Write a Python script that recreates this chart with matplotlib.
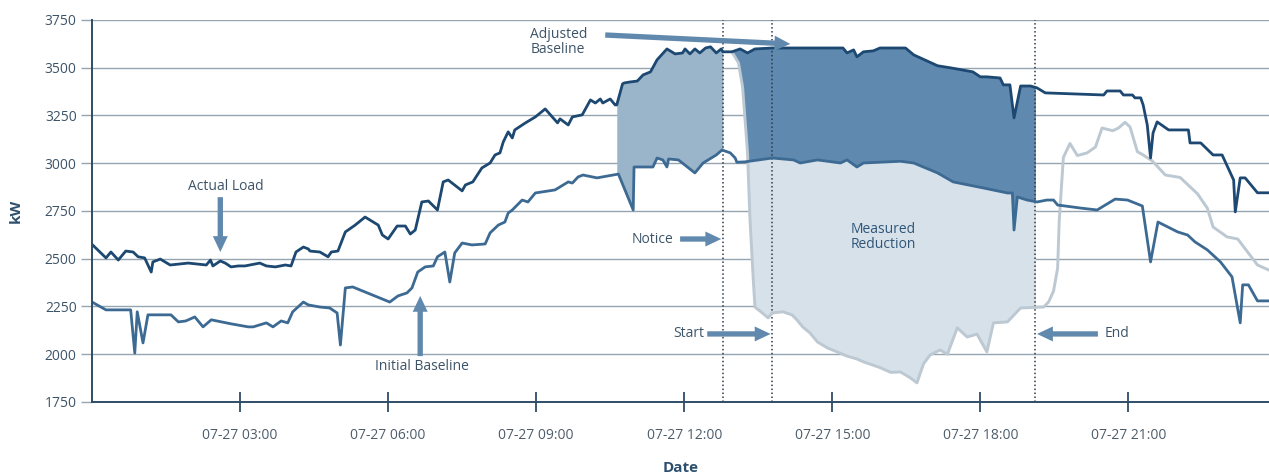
import matplotlib
matplotlib.use("Agg")
import matplotlib.pyplot as plt
import matplotlib.dates as mdates
import numpy as np
import pandas as pd

# ── Style ──────────────────────────────────────────────────────────────────────
plt.rcParams.update({
    "font.family": ["Open Sans", "DejaVu Sans"],
    "axes.spines.top": False,
    "axes.spines.right": False,
    "lines.solid_joinstyle": "round",
    "lines.solid_capstyle": "round",
})

UPPER_C = "#1d4871"
BASE_C = "#3c6a93"
ACTUAL_C = "#bcc8d2"
FILL_PRE = "#9ab4ca"
FILL_DARK = "#5f89ae"
FILL_LIGHT = "#d6e1ea"
GRID_C = "#97a5b0"
SPINE_C = "#2f4d66"
ARROW_C = "#6189ad"
TEXT_C = "#3d5468"
LABEL_C = "#2d4f6e"

DAY = pd.Timestamp("2020-07-27")

# ── Data (minutes after midnight, kW) ──────────────────────────────────────────
# actual load until the notice, adjusted baseline afterwards
upper_min = [0, 17, 23, 32, 41, 50, 56, 64, 72, 74, 83, 95, 117, 139, 144, 147,
             156, 162, 169, 178, 186, 204, 212, 223, 235, 242, 248, 257, 263, 265,
             277, 287, 291, 299, 308, 320, 332, 348, 353, 360, 371, 381, 387, 393,
             401, 409, 420, 427, 433, 450, 454, 463, 474, 484, 490, 496, 500, 506,
             511, 514, 527, 539, 551, 566, 569, 579, 584, 596, 606, 612, 618, 621,
             630, 636, 638, 645, 647, 654, 663, 670, 679, 687, 699, 709, 718, 721,
             727, 733, 739, 746, 752, 759, 765, 767, 778, 788, 797, 806, 827, 913,
             918, 926, 930, 938, 950, 958, 989, 999, 1028, 1044, 1071, 1080, 1088,
             1104, 1108, 1116, 1121, 1129, 1141, 1149, 1159, 1230, 1234, 1250, 1254,
             1265, 1268, 1275, 1278, 1283, 1287, 1290, 1295, 1309, 1333, 1335, 1348,
             1363, 1374, 1388, 1390, 1396, 1402, 1411, 1417, 1431]
upper_kw = [2575, 2504, 2535, 2493, 2540, 2535, 2510, 2504, 2430, 2483, 2498, 2467,
            2477, 2467, 2493, 2462, 2488, 2477, 2457, 2462, 2462, 2477, 2462, 2457,
            2467, 2462, 2535, 2561, 2551, 2540, 2535, 2510, 2535, 2540, 2640, 2676,
            2718, 2676, 2624, 2603, 2671, 2671, 2629, 2650, 2797, 2802, 2755, 2902,
            2912, 2855, 2886, 2902, 2975, 3001, 3043, 3054, 3111, 3164, 3132, 3174,
            3211, 3242, 3284, 3211, 3232, 3200, 3242, 3253, 3331, 3315, 3336, 3315,
            3336, 3305, 3305, 3415, 3420, 3425, 3430, 3462, 3478, 3541, 3598, 3572,
            3577, 3598, 3572, 3598, 3577, 3603, 3609, 3577, 3598, 3583, 3583, 3598,
            3577, 3598, 3603, 3603, 3577, 3593, 3557, 3583, 3588, 3603, 3603, 3567,
            3510, 3499, 3478, 3452, 3452, 3446, 3410, 3410, 3237, 3404, 3404, 3394,
            3368, 3357, 3378, 3378, 3357, 3357, 3342, 3342, 3305, 3200, 3027, 3158,
            3216, 3174, 3174, 3106, 3106, 3043, 3043, 2912, 2745, 2923, 2923, 2876,
            2845, 2845]

base_min = [0, 17, 47, 52, 55, 62, 68, 96, 105, 114, 125, 135, 145, 169, 190, 196,
            212, 220, 230, 238, 244, 257, 263, 277, 289, 298, 302, 308, 317, 362,
            372, 383, 389, 396, 405, 415, 420, 429, 435, 441, 450, 462, 478, 484,
            494, 502, 506, 511, 523, 530, 539, 563, 579, 584, 591, 597, 614, 640,
            658, 659, 682, 687, 694, 699, 701, 713, 733, 743, 759, 766, 776, 782,
            784, 794, 827, 853, 861, 882, 910, 918, 930, 938, 983, 999, 1028, 1047,
            1084, 1113, 1119, 1121, 1125, 1137, 1149, 1161, 1169, 1174, 1202, 1222,
            1244, 1259, 1277, 1287, 1296, 1320, 1332, 1341, 1356, 1372, 1386, 1396,
            1399, 1406, 1417, 1431]
base_kw = [2273, 2232, 2232, 2006, 2222, 2059, 2206, 2206, 2169, 2174, 2195, 2143,
           2180, 2159, 2143, 2143, 2164, 2143, 2174, 2164, 2222, 2273, 2258, 2247,
           2242, 2216, 2048, 2347, 2352, 2273, 2305, 2321, 2347, 2430, 2457, 2462,
           2510, 2535, 2378, 2530, 2582, 2572, 2577, 2635, 2676, 2692, 2739, 2755,
           2807, 2797, 2844, 2860, 2902, 2896, 2928, 2938, 2923, 2943, 2755, 2980,
           2980, 3027, 3017, 2980, 3022, 3017, 2949, 3001, 3043, 3069, 3054, 3027,
           3005, 3007, 3027, 3017, 3001, 3017, 3001, 3017, 2980, 3001, 3010, 3001,
           2949, 2902, 2870, 2844, 2844, 2650, 2823, 2807, 2797, 2807, 2807, 2781,
           2765, 2755, 2812, 2807, 2776, 2483, 2692, 2640, 2624, 2588, 2546, 2483,
           2405, 2164, 2363, 2363, 2279, 2279]

# actual load from the notice onward
actual_min = [778, 786, 791, 797, 800, 804, 806, 815, 822, 827, 840, 851, 857, 864,
              873, 882, 894, 906, 918, 930, 938, 958, 971, 983, 995, 1003, 1011,
              1019, 1031, 1040, 1052, 1064, 1076, 1088, 1096, 1113, 1129, 1157, 1163,
              1169, 1174, 1176, 1181, 1189, 1198, 1210, 1220, 1228, 1241, 1248, 1256,
              1262, 1271, 1278, 1289, 1305, 1323, 1344, 1356, 1363, 1380, 1393, 1417,
              1431]
actual_kw = [3583, 3525, 3399, 3054, 2703, 2389, 2247, 2216, 2190, 2216, 2222, 2206,
             2180, 2143, 2111, 2064, 2033, 2012, 1990, 1975, 1960, 1930, 1905, 1907,
             1876, 1850, 1950, 1996, 2022, 2000, 2138, 2090, 2105, 2012, 2164, 2169,
             2242, 2247, 2273, 2330, 2450, 2703, 3030, 3103, 3040, 3054, 3085, 3184,
             3170, 3184, 3214, 3190, 3060, 3043, 3012, 2938, 2925, 2840, 2765, 2666,
             2614, 2603, 2467, 2440]

pre_fill_start = 638   # upper curve steps up here
notice_min = 767
start_min = 827
end_min = 1147

y_ticks = [1750, 2000, 2250, 2500, 2750, 3000, 3250, 3500, 3750]


def to_dt(mins):
    return DAY + pd.to_timedelta(np.asarray(mins, dtype=float), unit="min")


def arrow(ax, tail, head):
    ax.annotate("", xy=(to_dt([head[0]])[0], head[1]),
                xytext=(to_dt([tail[0]])[0], tail[1]),
                arrowprops=dict(arrowstyle="simple,head_length=0.95,head_width=0.9,tail_width=0.32",
                                mutation_scale=12, color=ARROW_C, lw=0,
                                shrinkA=0, shrinkB=0), zorder=6)


def main():
    fig = plt.figure(figsize=(12.69, 4.74), dpi=100)
    ax = fig.add_axes([0.0725, 0.152, 0.9275, 0.806])

    # grid behind everything
    for v in y_ticks:
        ax.axhline(v, color=GRID_C, lw=1.0, zorder=0)

    # shaded areas
    g1 = np.arange(pre_fill_start, notice_min + 0.5, 0.5)
    ax.fill_between(to_dt(g1), np.interp(g1, base_min, base_kw),
                    np.interp(g1, upper_min, upper_kw),
                    color=FILL_PRE, lw=0, zorder=1)

    g2 = np.arange(actual_min[0], end_min + 0.25, 0.25)
    up2 = np.interp(g2, upper_min, upper_kw)
    bs2 = np.interp(g2, base_min, base_kw)
    ac2 = np.interp(g2, actual_min, actual_kw)
    ax.fill_between(to_dt(g2), np.maximum(ac2, bs2), up2,
                    color=FILL_DARK, lw=0, zorder=1)
    ax.fill_between(to_dt(g2), ac2, bs2, where=ac2 < bs2, interpolate=True,
                    color=FILL_LIGHT, lw=0, zorder=1)

    # series
    ax.plot(to_dt(actual_min), actual_kw, color=ACTUAL_C, lw=2.1, zorder=3)
    ax.plot(to_dt(base_min), base_kw, color=BASE_C, lw=2.0, zorder=4)
    ax.plot(to_dt(upper_min), upper_kw, color=UPPER_C, lw=2.0, zorder=5)

    # event markers
    for m in (notice_min, start_min, end_min):
        ax.axvline(to_dt([m])[0], color="#2c3a47", lw=1.1, ls=(0, (1, 1.6)), zorder=2)

    # annotations
    kw = dict(fontsize=10, color=TEXT_C, zorder=7)
    ax.text(to_dt([163])[0], 2876, "Actual Load", ha="center", va="center", **kw)
    arrow(ax, (156, 2822), (156, 2535))
    ax.text(to_dt([401])[0], 1938, "Initial Baseline", ha="center", va="center", **kw)
    arrow(ax, (399, 1990), (399, 2305))
    ax.text(to_dt([533])[0], 3635, "Adjusted\nBaseline", ha="left", va="center",
            linespacing=1.05, **kw)
    arrow(ax, (624, 3671), (849, 3624))
    ax.text(to_dt([707])[0], 2603, "Notice", ha="right", va="center", **kw)
    arrow(ax, (715, 2603), (765, 2603))
    ax.text(to_dt([744])[0], 2106, "Start", ha="right", va="center", **kw)
    arrow(ax, (748, 2106), (825, 2106))
    ax.text(to_dt([1231])[0], 2106, "End", ha="left", va="center", **kw)
    arrow(ax, (1223, 2106), (1149, 2106))
    ax.text(to_dt([962])[0], 2613, "Measured\nReduction", ha="center", va="center",
            fontsize=10, color="#2f5577", linespacing=1.0, zorder=7)

    # axes
    ax.set_xlim(to_dt([0])[0], to_dt([1431])[0])
    ax.set_ylim(1750, 3750)
    ax.set_yticks(y_ticks)
    ax.xaxis.set_major_locator(mdates.HourLocator(byhour=[3, 6, 9, 12, 15, 18, 21]))
    ax.xaxis.set_major_formatter(mdates.DateFormatter("%m-%d %H:%M"))
    ax.tick_params(axis="x", direction="inout", length=14, width=1.3, color=SPINE_C,
                   labelsize=10, labelcolor="#4d5d6b", pad=12)
    ax.tick_params(axis="y", direction="out", length=8, width=1.0, color=GRID_C,
                   labelsize=10, labelcolor=TEXT_C, pad=3)
    for s in ("left", "bottom"):
        ax.spines[s].set_color(SPINE_C)
        ax.spines[s].set_linewidth(1.4)
        ax.spines[s].set_zorder(8)
    ax.set_xlabel("Date", fontsize=11, fontweight="bold", color=LABEL_C, labelpad=13)
    ax.set_ylabel("kW", fontsize=11, fontweight="bold", color=LABEL_C, labelpad=16)
    ax.set_facecolor("white")

    fig.savefig("out.png", dpi=100)


if __name__ == "__main__":
    main()
